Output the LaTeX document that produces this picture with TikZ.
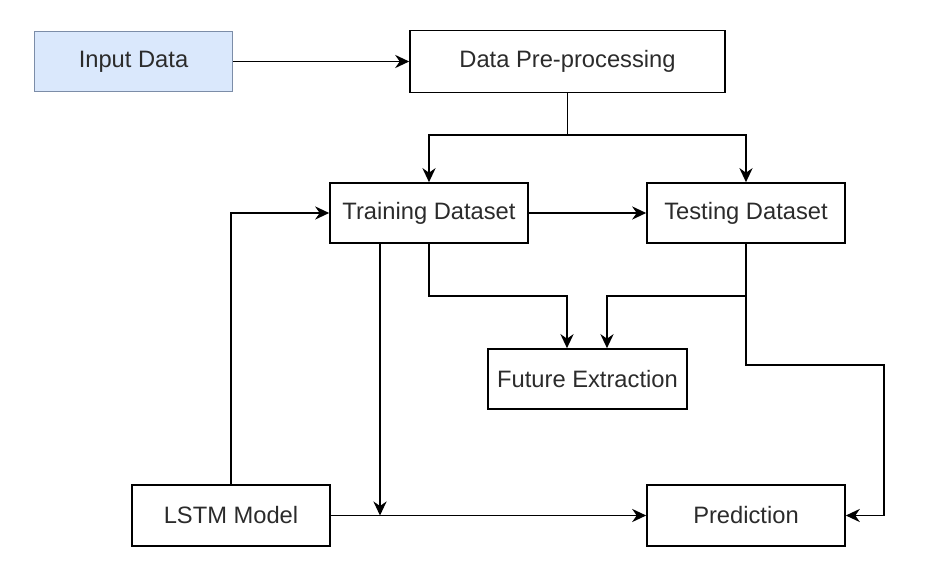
\documentclass[tikz,border=0pt]{standalone}
\usepackage{fontspec}
\setmainfont{Liberation Sans}
\usetikzlibrary{arrows.meta}
\definecolor{inputfill}{HTML}{DAE8FC}
\definecolor{inputline}{HTML}{7C8DA8}
\definecolor{boxtext}{HTML}{2B2B2B}
\begin{document}
\begin{tikzpicture}[x=0.02cm,y=-0.02cm,>={Stealth[length=8pt,width=7.5pt]},
    box/.style={draw,line width=0.95pt,minimum width=3.96cm,minimum height=1.2cm,inner sep=0pt,
      text=boxtext,font=\fontsize{13.5}{16}\selectfont},
    link/.style={line width=0.95pt,->}]
    \useasboundingbox (0,0) rectangle (938,561);

    % Boxes
    \node[box,fill=inputfill,draw=inputline] (input) at (133.5,61.5) {Input Data};
    \node[box,minimum width=6.3cm,minimum height=1.24cm] (pre) at (567.5,61.5) {Data Pre-processing};
    \node[box] (train) at (429,213) {Training Dataset};
    \node[box] (test) at (746,213) {Testing Dataset};
    \node[box,minimum width=3.98cm] (future) at (587.5,379) {Future Extraction};
    \node[box,minimum height=1.22cm] (lstm) at (231,515.5) {LSTM Model};
    \node[box,minimum height=1.22cm] (pred) at (746,515.5) {Prediction};

    % Junctions
    \coordinate (split) at (567.5,135);
    \coordinate (jtrain) at (429,296);
    \coordinate (jtest) at (746,296);
    \coordinate (join) at (380,515.5);

    % Arrows
    \draw[link] (input) -- (pre);
    \draw[link] (pre.south) -- (split) -| (train.north);
    \draw[link] (split) -| (test.north);
    \draw[link] (train) -- (test);
    \draw[link] (lstm.north) |- (train.west);
    \draw[link] (train.south) -- (jtrain) -| ([xshift=-0.41cm]future.north);
    \draw[link] (test.south) -- (jtest) -| ([xshift=0.39cm]future.north);
    \draw[link] (jtest) |- (884,365) |- (pred.east);
    \draw[link] (join |- train.south) -- (join);
    \draw[link] (lstm) -- (pred);
\end{tikzpicture}
\end{document}
